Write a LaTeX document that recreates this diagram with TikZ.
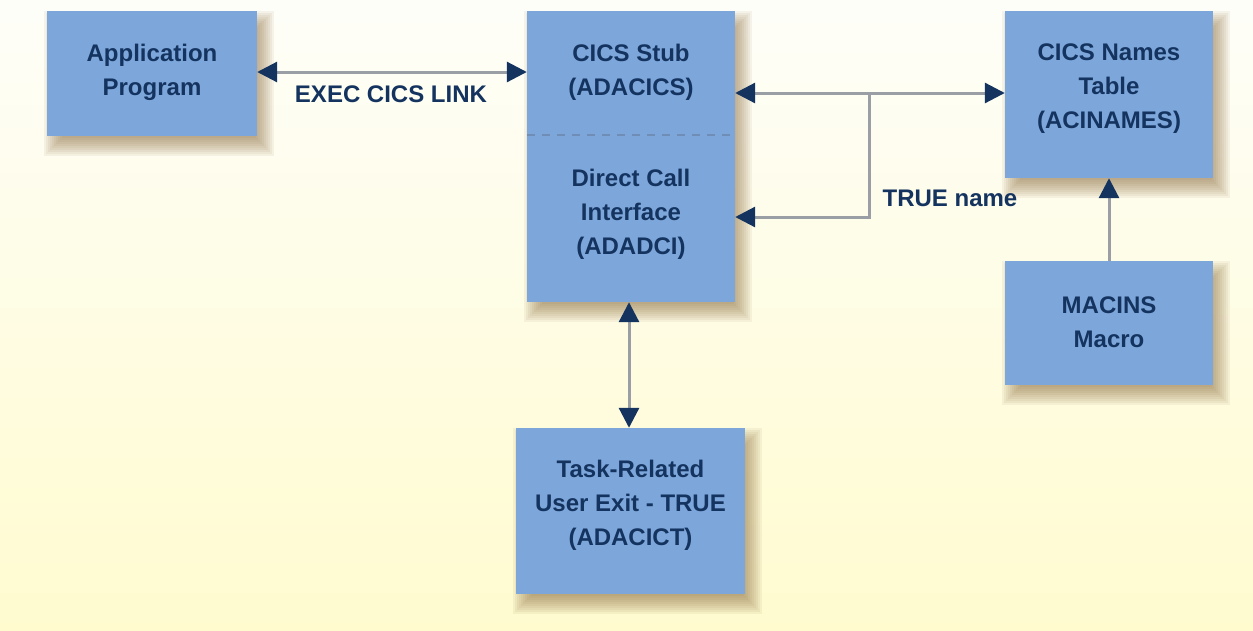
\documentclass[tikz,border=0pt]{standalone}
\usepackage{fontspec}
\setmainfont{Liberation Sans}
\usetikzlibrary{arrows.meta,backgrounds}
\definecolor{boxfill}{HTML}{7DA7DB}
\definecolor{navy}{HTML}{14335F}
\definecolor{linegray}{HTML}{9A9FA6}
\definecolor{bgtop}{HTML}{FEFEF9}
\definecolor{bgbot}{HTML}{FFFBCF}
\definecolor{dashc}{HTML}{6F8DB5}
\definecolor{shadowc}{HTML}{8C6D3F}
\tikzset{
  box/.style={fill=boxfill, draw=none, inner sep=0pt},
  txt/.style={text=navy, align=center, inner sep=0pt,
    font=\fontsize{24}{34}\selectfont\bfseries},
  conn/.style={draw=linegray, line width=3pt},
  shadowlayer/.style={fill=shadowc, fill opacity=0.08},
}
\begin{document}
\begin{tikzpicture}[x=1pt,y=-1pt, >={Triangle[length=20pt,width=20pt,color=navy]}]
\useasboundingbox (0,0) rectangle (1253,630);
% boxes
\node[box, minimum width=210pt, minimum height=125pt] (app) at (152,73.5) {};
\node[box, minimum width=208pt, minimum height=291pt] (stub) at (631,156.5) {};
\node[box, minimum width=208pt, minimum height=167pt] (names) at (1109,94.5) {};
\node[box, minimum width=208pt, minimum height=124pt] (macins) at (1109,323) {};
\node[box, minimum width=229pt, minimum height=166pt] (task) at (630.5,511) {};
% background and shadows
\begin{scope}[on background layer]
\shade[top color=bgtop, bottom color=bgbot] (0,0) rectangle (1253,630);
\foreach \n in {app,stub,names,macins,task}{
  \foreach \r in {-8,-6,...,10}{
    \fill[shadowlayer] ([shift={(7-\r,10-\r)}]\n.north west) rectangle ([shift={(7+\r,10+\r)}]\n.south east);
  }
}
\end{scope}
% dashed divider
\coordinate (divl) at (527,135);
\coordinate (divr) at (735,135);
\draw[dashc, line width=2pt, dash pattern=on 8pt off 7pt] (divl) -- (divr);
% texts
\node[txt] (tapp) at (152,72) {Application\\Program};
\node[txt] (tstub) at (631,72) {CICS Stub\\(ADACICS)};
\node[txt] (tdci) at (631,214) {Direct Call\\Interface\\(ADADCI)};
\node[txt] (tnames) at (1109,89) {CICS Names\\Table\\(ACINAMES)};
\node[txt] (tmac) at (1109,322) {MACINS\\Macro};
\node[txt] (ttask) at (630.5,505) {Task-Related\\User Exit - TRUE\\(ADACICT)};
% connectors
\draw[conn, <->] (app.east |- 0,72) -- (stub.west |- 0,72);
\node[txt] (lexec) at (391,94) {EXEC CICS LINK};
\coordinate (br) at (869,93);
\coordinate (brlow) at (869,217);
\draw[conn, <->] (stub.east |- br) -- (names.west |- br);
\draw[conn, ->] (br) -- (brlow) -- (stub.east |- brlow);
\node[txt] (ltrue) at (950,198) {TRUE name};
\draw[conn, <->] (stub.south -| 629,0) -- (task.north -| 629,0);
\draw[conn, ->] (macins.north) -- (names.south);
\end{tikzpicture}
\end{document}
